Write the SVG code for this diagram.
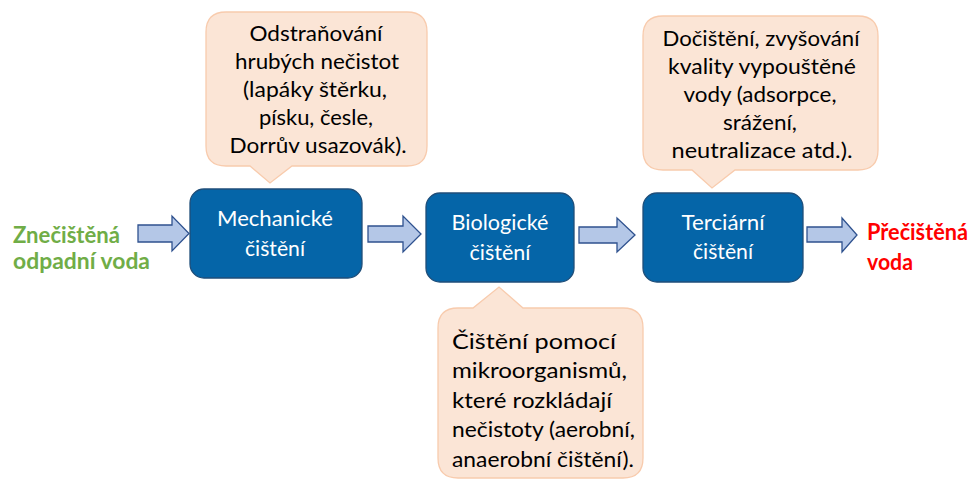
<svg xmlns="http://www.w3.org/2000/svg" width="975" height="481" viewBox="0 0 975 481">
<style>
.box{fill:#0565A8;stroke:#1F4E79;stroke-width:1.3}
.call{fill:#FBE5D6;stroke:#F8CBAD;stroke-width:1.3}
.arr{fill:#B4C7E7;stroke:#2F528F;stroke-width:1.3;stroke-linejoin:miter}
.bt{font-family:Lato,"Open Sans","Noto Sans",sans-serif;font-size:22px;fill:#FFFFFF;text-anchor:middle}
.ct{font-family:Lato,"Open Sans","Noto Sans",sans-serif;font-size:22px;fill:#000000}
.lbl{font-family:Lato,"Open Sans","Noto Sans",sans-serif;font-size:22px;font-weight:bold}
</style>
<rect width="975" height="481" fill="#FFFFFF"/>
<g id="connectors">
<polygon class="arr" points="138,225 172,225 172,216 189,233.5 172,251 172,242 138,242"/>
<polygon class="arr" points="368,226 403,226 403,216 421,234 403,252 403,242 368,242"/>
<polygon class="arr" points="579,227 617,227 617,218 635,235 617,252 617,243 579,243"/>
<polygon class="arr" points="807,227 842,227 842,218 857,235 842,252 842,242 807,242"/>
</g>
<g id="input">
<text class="lbl" fill="#70AD47" x="13" y="243" textLength="107" lengthAdjust="spacingAndGlyphs">Znečištěná</text>
<text class="lbl" fill="#70AD47" x="13" y="269" textLength="137" lengthAdjust="spacingAndGlyphs">odpadní voda</text>
</g>
<g id="mechanicke">
<rect class="box" x="190" y="189" width="172" height="89" rx="14"/>
<text class="bt" x="275" y="226" textLength="116" lengthAdjust="spacingAndGlyphs">Mechanické</text>
<text class="bt" x="275" y="256" textLength="60" lengthAdjust="spacingAndGlyphs">čištění</text>
</g>
<g id="biologicke">
<rect class="box" x="426" y="193" width="148" height="89" rx="14"/>
<text class="bt" x="500" y="230" textLength="97" lengthAdjust="spacingAndGlyphs">Biologické</text>
<text class="bt" x="500" y="260" textLength="61" lengthAdjust="spacingAndGlyphs">čištění</text>
</g>
<g id="terciarni">
<rect class="box" x="643" y="193" width="160" height="89" rx="14"/>
<text class="bt" x="723" y="230" textLength="83" lengthAdjust="spacingAndGlyphs">Terciární</text>
<text class="bt" x="723" y="259" textLength="60" lengthAdjust="spacingAndGlyphs">čištění</text>
</g>
<g id="output">
<text class="lbl" fill="#FF0000" x="867" y="240" textLength="101" lengthAdjust="spacingAndGlyphs">Přečištěná</text>
<text class="lbl" fill="#FF0000" x="867" y="270" textLength="46" lengthAdjust="spacingAndGlyphs">voda</text>
</g>
<g id="callout-mech">
<path class="call" d="M226,12 H407 Q427,12 427,32 V146 Q427,166 407,166 H292 L270,183 L250,166 H226 Q206,166 206,146 V32 Q206,12 226,12 Z"/>
<text class="ct" text-anchor="middle" x="316" y="41" textLength="133" lengthAdjust="spacingAndGlyphs">Odstraňování</text>
<text class="ct" text-anchor="middle" x="317" y="69" textLength="164" lengthAdjust="spacingAndGlyphs">hrubých nečistot</text>
<text class="ct" text-anchor="middle" x="315" y="97" textLength="144" lengthAdjust="spacingAndGlyphs">(lapáky štěrku,</text>
<text class="ct" text-anchor="middle" x="316" y="125" textLength="114" lengthAdjust="spacingAndGlyphs">písku, česle,</text>
<text class="ct" text-anchor="middle" x="318" y="153" textLength="177" lengthAdjust="spacingAndGlyphs">Dorrův usazovák).</text>
</g>
<g id="callout-bio">
<path class="call" d="M458,308 H473 L499,287 L523,308 H623 Q643,308 643,328 V458 Q643,478 623,478 H458 Q438,478 438,458 V328 Q438,308 458,308 Z"/>
<text class="ct" x="452" y="349" textLength="164" lengthAdjust="spacingAndGlyphs">Čištění pomocí</text>
<text class="ct" x="452" y="378" textLength="175" lengthAdjust="spacingAndGlyphs">mikroorganismů,</text>
<text class="ct" x="452" y="408" textLength="160" lengthAdjust="spacingAndGlyphs">které rozkládají</text>
<text class="ct" x="452" y="437" textLength="183" lengthAdjust="spacingAndGlyphs">nečistoty (aerobní,</text>
<text class="ct" x="452" y="467" textLength="182" lengthAdjust="spacingAndGlyphs">anaerobní čištění).</text>
</g>
<g id="callout-terc">
<path class="call" d="M663,16 H858 Q878,16 878,36 V150 Q878,170 858,170 H735 L712,188 L692,170 H663 Q643,170 643,150 V36 Q643,16 663,16 Z"/>
<text class="ct" text-anchor="middle" x="761" y="46" textLength="197" lengthAdjust="spacingAndGlyphs">Dočištění, zvyšování</text>
<text class="ct" text-anchor="middle" x="762" y="74" textLength="188" lengthAdjust="spacingAndGlyphs">kvality vypouštěné</text>
<text class="ct" text-anchor="middle" x="760" y="102" textLength="153" lengthAdjust="spacingAndGlyphs">vody (adsorpce,</text>
<text class="ct" text-anchor="middle" x="760" y="130" textLength="74" lengthAdjust="spacingAndGlyphs">srážení,</text>
<text class="ct" text-anchor="middle" x="762" y="158" textLength="181" lengthAdjust="spacingAndGlyphs">neutralizace atd.).</text>
</g>
</svg>
